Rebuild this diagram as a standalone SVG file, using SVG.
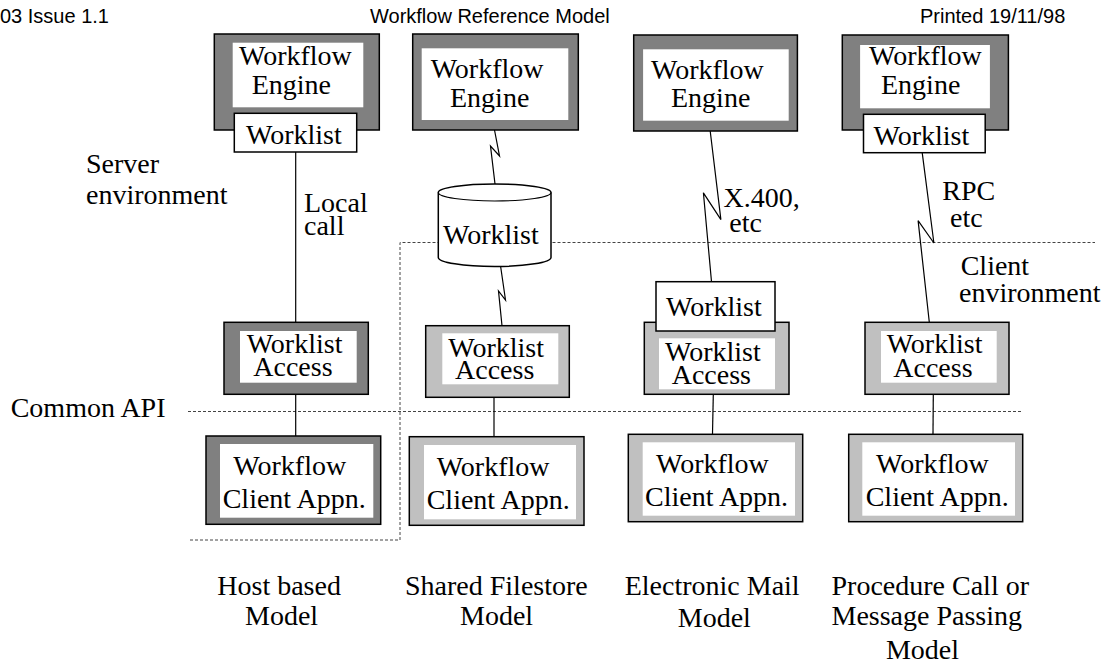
<svg xmlns="http://www.w3.org/2000/svg" width="1106" height="666" viewBox="0 0 1106 666">
<style>
.t{font-family:"Liberation Serif","Times New Roman",serif;font-size:28px;fill:#000}
.h{font-family:"Liberation Sans",Arial,sans-serif;font-size:20px;fill:#000}
.dk{fill:#808080;stroke:#000;stroke-width:1.5}
.lt{fill:#c0c0c0;stroke:#000;stroke-width:1.5}
.in{fill:#fff}
.wl{fill:#fff;stroke:#000;stroke-width:1.5}
.c{fill:none;stroke:#000;stroke-width:1.2}
.d{fill:none;stroke:#444;stroke-width:1;stroke-dasharray:3 2}
</style>
<rect x="0" y="0" width="1106" height="666" fill="#fff"/>
<g id="header">
<text class="h" x="0" y="23">03 Issue 1.1</text>
<text class="h" x="370" y="23">Workflow Reference Model</text>
<text class="h" x="920" y="23">Printed 19/11/98</text>
</g>
<g id="boundaries">
<path class="d" d="M190,540 H400 V242.5 H1095"/>
<path class="d" d="M188,411.5 H1023"/>
</g>
<g id="connectors">
<path class="c" d="M295.7,152 V322.3"/>
<path class="c" d="M295.7,394.3 V436"/>
<path class="c" d="M494.5,130 L499.5,156 L490.5,146 L495,184"/>
<path class="c" d="M500.7,267 L505.5,300 L498.5,291 L502,325.7"/>
<path class="c" d="M494,397.3 V436.7"/>
<path class="c" d="M710.2,131 L720.9,219.6 L703.4,192.8 L711.5,281.7"/>
<path class="c" d="M713.3,394.3 L712.5,434.3"/>
<path class="c" d="M922.2,152.7 L933.9,243 L918.1,220.6 L929.3,322.3"/>
<path class="c" d="M933.3,394.3 L933,434.3"/>
</g>
<g id="labels">
<text class="t" x="86" y="173">Server</text>
<text class="t" x="86" y="204">environment</text>
<text class="t" x="304" y="211.7">Local</text>
<text class="t" x="304" y="235">call</text>
<text class="t" x="723.6" y="206.7">X.400,</text>
<text class="t" x="729.3" y="231.7">etc</text>
<text class="t" x="942.3" y="200">RPC</text>
<text class="t" x="950" y="226.7">etc</text>
<text class="t" x="960.7" y="275">Client</text>
<text class="t" x="959" y="301.7">environment</text>
<text class="t" x="10.7" y="417.3">Common API</text>
<text class="t" x="217.3" y="595">Host based</text>
<text class="t" x="245" y="625">Model</text>
<text class="t" x="405" y="595">Shared Filestore</text>
<text class="t" x="460" y="625">Model</text>
<text class="t" x="624.7" y="595">Electronic Mail</text>
<text class="t" x="677.8" y="627">Model</text>
<text class="t" x="831.5" y="595">Procedure Call or</text>
<text class="t" x="831.5" y="625">Message Passing</text>
<text class="t" x="885.9" y="659">Model</text>
</g>
<g id="engine1">
<rect class="dk" x="214.3" y="34" width="165" height="96"/>
<rect class="in" x="232.7" y="42.7" width="130.6" height="64.6"/>
<text class="t" x="239" y="65">Workflow</text>
<text class="t" x="251.7" y="94">Engine</text>
</g>
<g id="worklist1">
<rect class="wl" x="234.3" y="113.3" width="122.4" height="38.7"/>
<text class="t" x="246" y="144">Worklist</text>
</g>
<g id="engine2">
<rect class="dk" x="412.7" y="34" width="165.6" height="96"/>
<rect class="in" x="421.7" y="48.3" width="146.6" height="71.7"/>
<text class="t" x="430.7" y="78">Workflow</text>
<text class="t" x="450" y="107">Engine</text>
</g>
<g id="worklist2">
<path class="wl" d="M438.3,192.5 A56.35,8.5 0 0 1 551,192.5 V257.5 A56.35,9 0 0 1 438.3,257.5 Z"/>
<path class="c" d="M438.3,192.5 A56.35,8.5 0 0 0 551,192.5"/>
<text class="t" x="443" y="244">Worklist</text>
</g>
<g id="engine3">
<rect class="dk" x="633.7" y="35" width="163.7" height="96"/>
<rect class="in" x="643.1" y="49.3" width="145.6" height="71.4"/>
<text class="t" x="651" y="79">Workflow</text>
<text class="t" x="671" y="107">Engine</text>
</g>
<g id="engine4">
<rect class="dk" x="842.3" y="35" width="166.1" height="95"/>
<rect class="in" x="860.1" y="45" width="129.8" height="63.3"/>
<text class="t" x="869" y="65">Workflow</text>
<text class="t" x="881" y="94">Engine</text>
</g>
<g id="worklist4">
<rect class="wl" x="863.5" y="114.3" width="121.7" height="38.4"/>
<text class="t" x="873.5" y="145">Worklist</text>
</g>
<g id="access1">
<rect class="dk" x="224" y="322.3" width="144.3" height="72"/>
<rect class="in" x="240" y="331" width="116.7" height="51.7"/>
<text class="t" x="246.7" y="353">Worklist</text>
<text class="t" x="253.3" y="376">Access</text>
</g>
<g id="access2">
<rect class="lt" x="425.7" y="325.7" width="143.6" height="71.6"/>
<rect class="in" x="442.3" y="333.3" width="116" height="51"/>
<text class="t" x="448.3" y="357">Worklist</text>
<text class="t" x="455" y="379">Access</text>
</g>
<g id="access3">
<rect class="lt" x="644.3" y="322.3" width="144.7" height="72"/>
<rect class="in" x="659" y="338.3" width="116" height="51"/>
<text class="t" x="665" y="360.7">Worklist</text>
<text class="t" x="671.7" y="384">Access</text>
</g>
<g id="worklist3">
<rect class="wl" x="656" y="281.7" width="119" height="49.3"/>
<text class="t" x="666" y="316">Worklist</text>
</g>
<g id="access4">
<rect class="lt" x="865" y="322.3" width="144" height="72"/>
<rect class="in" x="881" y="331" width="115.7" height="51.7"/>
<text class="t" x="886.7" y="353.3">Worklist</text>
<text class="t" x="893.3" y="376.7">Access</text>
</g>
<g id="client1">
<rect class="dk" x="206" y="436" width="174.7" height="88.3"/>
<rect class="in" x="220" y="444" width="153.3" height="73.7"/>
<text class="t" x="233.3" y="475">Workflow</text>
<text class="t" x="222.7" y="508.3">Client Appn.</text>
</g>
<g id="client2">
<rect class="lt" x="409.3" y="436.7" width="174.7" height="88.6"/>
<rect class="in" x="424" y="445" width="152" height="74.3"/>
<text class="t" x="436.7" y="475.7">Workflow</text>
<text class="t" x="426.7" y="509.3">Client Appn.</text>
</g>
<g id="client3">
<rect class="lt" x="628.3" y="434.3" width="174.4" height="87.4"/>
<rect class="in" x="642.7" y="442.3" width="152.3" height="73.4"/>
<text class="t" x="656" y="472.7">Workflow</text>
<text class="t" x="645" y="506">Client Appn.</text>
</g>
<g id="client4">
<rect class="lt" x="848.7" y="434.3" width="174" height="87.4"/>
<rect class="in" x="862.3" y="442.3" width="152.7" height="73.4"/>
<text class="t" x="876" y="472.7">Workflow</text>
<text class="t" x="865.7" y="506">Client Appn.</text>
</g>
</svg>
